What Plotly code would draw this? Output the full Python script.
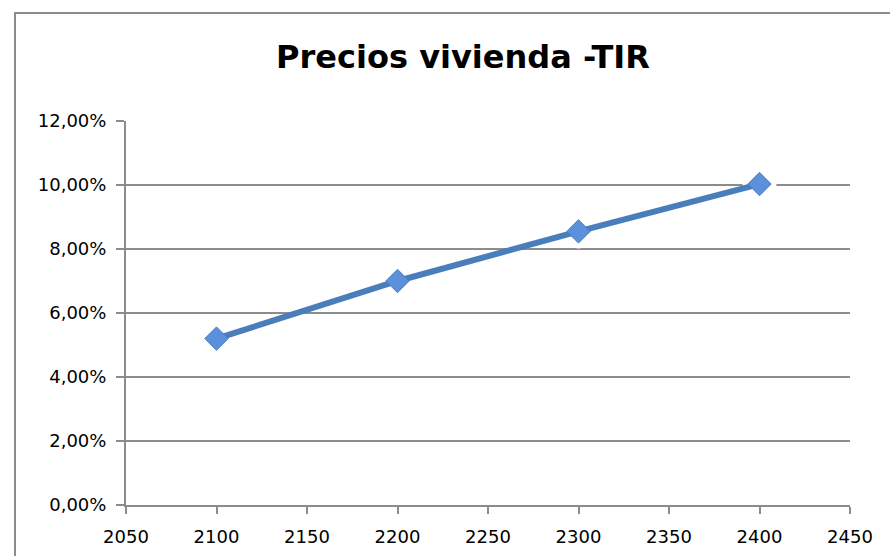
import plotly.graph_objects as go

# Precio de venta de la vivienda y TIR resultante
precios = [2100, 2200, 2300, 2400]
tir = [0.052, 0.070, 0.0855, 0.1003]

titulo = "Precios vivienda -TIR"
y_ticks = [0, 0.02, 0.04, 0.06, 0.08, 0.10, 0.12]
x_ticks = [2050, 2100, 2150, 2200, 2250, 2300, 2350, 2400, 2450]

AXIS_GREY = "#8c8c8c"
LINE_BLUE = "#4a7ebb"
FONT = "DejaVu Sans"

fig = go.Figure()

# soft white halo behind each marker (hides the gridlines around the point)
fig.add_trace(go.Scatter(
    x=precios, y=tir, mode="markers",
    marker=dict(symbol="circle", size=34, color="rgba(255,255,255,1)"),
    hoverinfo="skip", showlegend=False,
))

# series line and diamond markers
fig.add_trace(go.Scatter(
    x=precios, y=tir, mode="lines",
    line=dict(color=LINE_BLUE, width=6),
    showlegend=False,
))
fig.add_trace(go.Scatter(
    x=precios, y=tir, mode="markers",
    marker=dict(symbol="diamond", size=18, color="#5b90dc",
                line=dict(color="#4a7ebb", width=1)),
    showlegend=False,
))

L, R, T, B = 126, 40, 121, 51
W, H = 890, 556
pw, ph = W - L - R, H - T - B

fig.update_layout(
    width=W, height=H,
    margin=dict(l=L, r=R, t=T, b=B, autoexpand=False),
    paper_bgcolor="white", plot_bgcolor="white",
    separators=",.",
    font=dict(family=FONT, size=18, color="black"),
    title=dict(text="<b>" + titulo + "</b>", x=463 / W, xanchor="center",
               y=1 - 57 / H, yanchor="middle",
               font=dict(family=FONT, size=32, color="black")),
    showlegend=False,
    xaxis=dict(range=[2050, 2450], tickvals=x_ticks, showgrid=False,
               showline=True, linecolor=AXIS_GREY, linewidth=2,
               ticks="outside", ticklen=7, tickwidth=2, tickcolor=AXIS_GREY,
               zeroline=False, tickfont=dict(size=18), ticklabelstandoff=7,
               automargin=False),
    yaxis=dict(range=[0, 0.12], tickvals=y_ticks, tickformat=".2%",
               showgrid=True, gridcolor=AXIS_GREY, gridwidth=2,
               showline=True, linecolor=AXIS_GREY, linewidth=2,
               ticks="outside", ticklen=8, tickwidth=2, tickcolor=AXIS_GREY,
               zeroline=False, tickfont=dict(size=18), ticklabelstandoff=6,
               automargin=False),
)

# chart area border (top and left edges visible inside the frame)
fig.add_shape(type="rect", xref="paper", yref="paper",
              x0=(15 - L) / pw, x1=1.5, y0=-0.5, y1=(H - B - 13) / ph,
              line=dict(color=AXIS_GREY, width=2), layer="below")

fig.write_html("out.html")
